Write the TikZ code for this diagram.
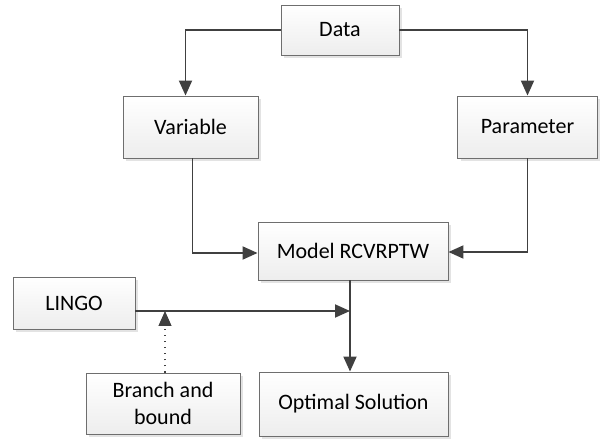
\documentclass[tikz,border=0pt]{standalone}
\usepackage{fontspec}
\setmainfont{Carlito}
\usetikzlibrary{arrows.meta,shadows}

\definecolor{linegray}{RGB}{64,64,64}
\definecolor{boxedge}{RGB}{110,110,110}

\begin{document}
\begin{tikzpicture}[x=1pt, y=1pt,
        box/.style={draw=boxedge, line width=0.9pt, top color=white, bottom color=gray!14,
          drop shadow={fill=gray!22, shadow xshift=3pt, shadow yshift=-3pt, opacity=1},
          font=\fontsize{22}{27}\selectfont, align=center, inner sep=0pt},
        link/.style={draw=linegray, line width=1.9pt, -{Triangle[length=15pt,width=13pt]}}]
        \useasboundingbox (0,0) rectangle (600,439);
        \node[box, minimum width=118pt, minimum height=50pt] (Data) at (340,409) {Data};
        \node[box, minimum width=135pt, minimum height=62pt] (Var) at (190.5,312) {Variable};
        \node[box, minimum width=140pt, minimum height=62pt] (Par) at (527.5,312) {Parameter};
        \node[box, minimum width=190pt, minimum height=58pt] (Model) at (353,188) {Model RCVRPTW};
        \node[box, minimum width=122pt, minimum height=52pt] (Lingo) at (74,136) {LINGO};
        \node[box, minimum width=154pt, minimum height=61pt] (BB) at (163,35.5) {Branch and\\bound};
        \node[box, minimum width=189pt, minimum height=64pt] (Opt) at (353.5,35) {Optimal Solution};

        \coordinate (join) at ([xshift=-3pt]Model.south |- 0,128);
        \coordinate (tap) at ([xshift=2pt]BB.north |- join);

        \draw[link] (Data.west) -| ([xshift=-5pt]Var.north);
        \draw[link] (Data.east) -| (Par.north);
        \draw[link] ([xshift=2pt]Var.south) |- ([yshift=-2pt]Model.west);
        \draw[link] (Par.south) |- ([yshift=-1pt]Model.east);
        \draw[link] ([xshift=-3pt]Model.south) -- ([xshift=-3.5pt]Opt.north);
        \draw[link] (Lingo.east |- join) -- (join);
        \draw[draw=linegray, line width=1.1pt, dash pattern=on 1.1pt off 5pt, -{Triangle[length=15pt,width=13pt]}]
          ([xshift=2pt]BB.north) -- (tap);
      \end{tikzpicture}
\end{document}
